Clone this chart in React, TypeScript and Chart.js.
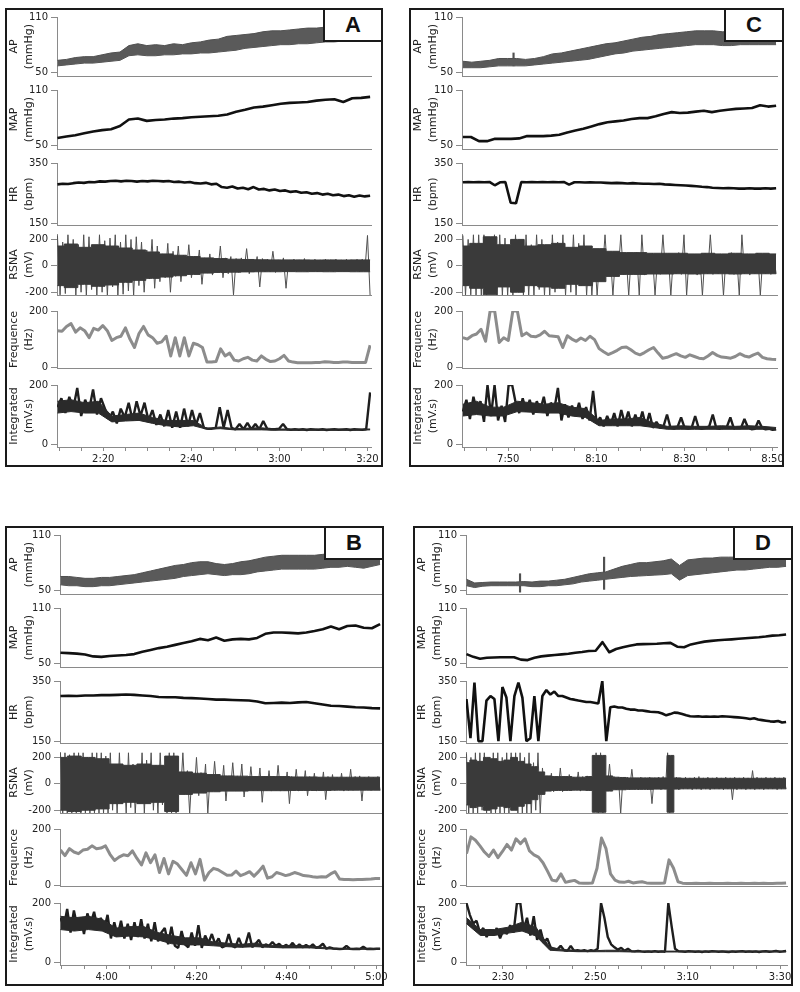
import React, { useEffect, useRef } from 'react';
import { Chart, registerables } from 'chart.js';
Chart.register(...registerables);

const FONT = "'DejaVu Sans', Verdana, sans-serif";

// ---------------- Panel A ----------------
const xLabelsA = ['2:20', '2:40', '3:00', '3:20'];
const apHiA = [63, 64, 66, 67, 67, 69, 71, 72, 79, 81, 79, 80, 79, 81, 80, 82, 83, 85, 86, 89, 90, 91, 92, 94, 95, 95, 96, 97, 98, 98, 99, 100, 99, 100, 101, 99];
const apLoA = [57, 58, 59, 60, 60, 61, 62, 63, 68, 69, 68, 68, 69, 69, 70, 70, 71, 71, 72, 73, 74, 76, 77, 78, 79, 80, 80, 81, 81, 82, 83, 83, 84, 84, 85, 85];
const apSpikeTA: number[] = [];
const apSpikeHiA: number[] = [];
const apSpikeLoA: number[] = [];
const mapA = [58, 59.5, 61, 63, 65, 66.5, 67.5, 71, 78, 79, 76.5, 77.5, 78, 79, 79.5, 80.5, 81, 81.5, 82, 83.5, 86.5, 88.5, 91, 92, 93.5, 95, 96, 96.5, 97, 98.5, 99.5, 100, 97, 101, 101.5, 102.5];
const hrA = [279, 281, 280, 283, 285, 284, 287, 286, 289, 288, 290, 291, 289, 291, 290, 288, 290, 289, 291, 290, 289, 290, 287, 288, 285, 287, 283, 282, 284, 279, 281, 270, 268, 272, 265, 268, 263, 270, 262, 264, 259, 262, 257, 259, 254, 256, 251, 253, 248, 250, 245, 248, 243, 245, 240, 243, 238, 242, 239, 241];
const rsnaCoreHiA = [150, 165, 140, 160, 150, 135, 120, 105, 90, 80, 70, 60, 55, 50, 48, 46, 45, 45, 45, 44, 45, 44, 45, 45];
const rsnaCoreLoA = [-150, -165, -140, -155, -145, -125, -110, -95, -85, -75, -65, -55, -50, -48, -46, -45, -45, -44, -45, -44, -45, -44, -45, -45];
const rsnaA = [
  230, -220, 180, -210, 235, -150, 200, -225, 160, -200, 235, -225, 220, -180, 150, -225, 235, -200, 190, -225, 210, -160, 235, -225, 180, -215, 235, -190, 200, -225,
  220, -150, 180, -200, 120, -100, 200, -170, 150, -120, 90, -90, 170, -200, 110, -80, 150, -120, 80, -70,
  160, -90, 70, -60, 120, -140, 60, -55, 90, -70, 50, -50, 150, -90, 60, -60, 70, -220, 55, -50,
  60, -45, 130, -60, 50, -45, 70, -160, 55, -45, 50, -45, 110, -50, 45, -40, 60, -170, 45, -40,
  50, -45, 45, -40, 55, -45, 45, -40, 50, -45, 45, -45, 50, -40, 45, -45, 50, -40, 45, -40, 50, -45, 45, -40, 50, -45, 50, -40, 230, -230,
];
const freqA = [130, 128, 145, 155, 125, 140, 130, 105, 138, 132, 148, 130, 95, 105, 110, 140, 100, 70, 120, 145, 115, 105, 85, 90, 110, 40, 105, 40, 105, 40, 85, 80, 70, 18, 18, 20, 65, 40, 50, 25, 22, 30, 35, 25, 22, 40, 28, 20, 22, 30, 42, 22, 18, 16, 16, 16, 16, 17, 17, 19, 18, 17, 17, 18, 18, 17, 17, 17, 17, 78];
const intCoreHiA = [145, 150, 140, 145, 95, 100, 105, 90, 80, 80, 80, 53, 58, 52, 54, 55, 51, 51, 51, 51, 51, 51, 51, 51];
const intCoreLoA = [105, 110, 105, 105, 75, 78, 80, 70, 62, 58, 62, 50, 52, 48, 48, 48, 47, 47, 47, 47, 47, 47, 47, 48];
const intA = [
  125, 155, 105, 160, 120, 190, 95, 150, 115, 185, 100, 155, 120,
  85, 110, 70, 120, 90, 140, 80, 145, 95, 140, 80, 115, 65, 100, 60, 115, 55, 110, 55, 120, 60, 115, 65, 105, 55, 52,
  52, 55, 125, 55, 115, 55, 50, 68, 50, 72, 50, 68, 50, 78, 52, 50, 50, 52, 68, 50, 48,
  50, 48, 50, 47, 50, 49, 48, 50, 47, 49, 50, 48, 49, 50, 47, 50, 49, 48, 50,
  175,
];

// ---------------- Panel C ----------------
const xLabelsC = ['7:50', '8:10', '8:30', '8:50'];
const apHiC = [62, 61, 62, 63, 65, 65, 65, 64, 65, 67, 70, 71, 73, 75, 77, 79, 81, 82, 84, 86, 88, 89, 91, 92, 93, 94, 95, 95, 95, 94, 94, 95, 95, 95, 94, 95];
const apLoC = [55, 55, 55, 56, 57, 57, 57, 57, 58, 59, 60, 61, 62, 63, 64, 66, 68, 70, 71, 73, 74, 75, 76, 77, 78, 79, 80, 80, 80, 79, 79, 80, 80, 80, 80, 80];
const apSpikeTC = [471.2];
const apSpikeHiC = [71];
const apSpikeLoC = [57];
const mapC = [59, 59, 54.5, 54.5, 57, 57, 57, 57.5, 60, 60, 60, 60.5, 61.5, 64, 66, 68, 70.5, 73, 75, 76, 77, 78.5, 79.5, 79.5, 81.5, 84, 86, 85, 85.5, 86.5, 87.5, 86, 87.5, 88.5, 89.5, 90, 90.5, 93.5, 92, 93];
const hrC = [286, 287, 286, 287, 286, 287, 276, 286, 287, 218, 216, 287, 286, 287, 286, 287, 286, 287, 286, 287, 278, 286, 286, 285, 286, 285, 285, 284, 283, 284, 283, 282, 283, 282, 281, 281, 280, 281, 279, 278, 277, 276, 275, 274, 273, 271, 270, 268, 267, 266, 267, 266, 265, 265, 266, 265, 265, 266, 265, 266];
const rsnaCoreHiC = [150, 170, 220, 160, 200, 150, 160, 170, 140, 150, 130, 110, 100, 100, 95, 95, 95, 90, 95, 90, 95, 90, 95, 90];
const rsnaCoreLoC = [-150, -170, -220, -160, -200, -150, -160, -170, -140, -150, -120, -80, -65, -65, -62, -62, -60, -62, -60, -60, -62, -60, -60, -60];
const rsnaC = [
  230, -225, 200, -220, 235, -225, 235, -225, 235, -225, 180, -200, 235, -225, 235, -225, 210, -225, 150, -225, 235, -200, 180, -225, 235, -225, 160, -225, 235, -180, 200, -225, 150, -225, 235, -200, 180, -160, 235, -225, 140, -200, 235, -225, 170, -150, 235, -225, 130, -225,
  90, -225, 80, -60, 235, -70, 90, -225, 85, -60, 235, -65, 80, -225, 90, -60, 100, -225, 235, -70, 85, -60, 95, -225, 80, -65, 235, -60, 90, -225, 80, -60, 100, -65, 235, -225, 85, -60, 90, -70, 80, -225, 95, -60, 235, -65, 85, -60, 90, -225, 80, -60, 100, -65, 85, -225, 235, -60, 90, -70, 80, -60, 95, -225, 85, -60, 90, -65, 80, -60,
];
const freqC = [105, 100, 112, 118, 135, 92, 200, 200, 88, 105, 95, 200, 200, 112, 122, 110, 108, 115, 128, 112, 110, 108, 70, 112, 100, 92, 104, 95, 110, 98, 66, 55, 45, 52, 60, 70, 72, 62, 50, 44, 52, 62, 70, 50, 32, 35, 42, 48, 40, 35, 44, 38, 32, 30, 40, 52, 42, 36, 34, 32, 38, 48, 40, 36, 44, 50, 35, 30, 28, 27];
const intCoreHiC = [135, 145, 125, 125, 145, 140, 135, 140, 125, 120, 80, 85, 85, 90, 72, 60, 62, 60, 60, 62, 60, 62, 60, 56];
const intCoreLoC = [95, 100, 95, 95, 110, 108, 105, 105, 95, 90, 62, 62, 62, 62, 56, 50, 50, 50, 50, 50, 50, 50, 50, 48];
const intC = [110, 150, 85, 160, 110, 145, 75, 200, 95, 200, 80, 130, 75, 200, 200, 140, 105, 155, 110, 150, 100, 145, 115, 160, 95, 140, 120, 190, 80, 135, 90, 130, 95, 140, 85, 125, 80, 180, 70, 90, 60, 95, 65, 105, 60, 115, 70, 110, 60, 100, 65, 110, 60, 105, 55, 75, 55, 60, 100, 55, 52, 58, 90, 55, 52, 55, 95, 54, 52, 55, 60, 100, 54, 52, 55, 58, 90, 52, 55, 54, 85, 56, 50, 52, 80, 55, 50, 52, 48, 50];

// ---------------- Panel B ----------------
const xLabelsB = ['4:00', '4:20', '4:40', '5:00'];
const apHiB = [65, 65, 64, 63, 63, 64, 64, 65, 66, 67, 69, 71, 73, 75, 77, 78, 80, 81, 81, 79, 78, 79, 81, 82, 84, 86, 87, 88, 88, 88, 88, 88, 89, 90, 90, 90, 90, 89, 90, 91];
const apLoB = [56, 55, 55, 54, 54, 55, 55, 56, 57, 58, 59, 60, 61, 62, 63, 65, 66, 67, 68, 67, 66, 67, 67, 68, 70, 71, 72, 73, 73, 73, 73, 73, 74, 75, 75, 76, 75, 74, 76, 78];
const apSpikeTB: number[] = [];
const apSpikeHiB: number[] = [];
const apSpikeLoB: number[] = [];
const mapB = [61.5, 61, 60.5, 59.5, 57.5, 57, 58, 58.5, 59, 60, 62.5, 64.5, 66.5, 68, 70, 72, 74, 76.5, 75, 78, 74.5, 76, 76.5, 76, 77.5, 82, 83.5, 83.5, 83, 82.5, 83.5, 85, 87, 90, 87, 90.5, 91, 88.5, 88, 92.5];
const hrB = [300, 301, 300, 302, 302, 303, 303, 304, 305, 304, 302, 300, 297, 296, 296, 294, 293, 292, 290, 288, 288, 287, 286, 285, 282, 276, 277, 278, 277, 279, 280, 276, 272, 268, 267, 265, 263, 262, 260, 259];
const rsnaCoreHiB = [200, 210, 200, 190, 150, 140, 150, 140, 210, 90, 80, 70, 60, 58, 55, 55, 55, 52, 52, 50, 50, 50, 50, 50];
const rsnaCoreLoB = [-200, -210, -200, -190, -150, -140, -150, -140, -210, -80, -70, -60, -55, -55, -52, -52, -52, -50, -50, -50, -48, -48, -48, -48];
const rsnaB = [
  235, -225, 235, -225, 220, -225, 235, -225, 235, -225, 235, -225, 200, -225, 235, -225, 235, -225, 235, -225, 210, -225,
  235, -200, 150, -225, 235, -150, 120, -225, 235, -180, 150, -225, 100, -150, 235, -225, 180, -120, 235, -200, 140, -225, 235, -160, 120, -225,
  235, -225, 235, -225,
  90, -70, 235, -80, 100, -225, 80, -70, 200, -90, 85, -70, 150, -225,
  60, -55, 170, -50, 55, -55, 140, -130, 55, -50, 160, -55, 60, -50, 150, -100, 55, -55, 130, -50, 55, -50, 120, -140, 55, -50, 100, -55, 55, -50, 140, -55, 55, -50, 90, -150, 55, -50, 110, -55, 50, -50, 100, -90, 55, -50, 80, -55, 50, -50, 90, -120, 55, -50, 70, -50, 50, -45, 80, -55, 50, -50, 110, -50, 55, -45, 60, -130, 50, -45, 55, -50, 50, -45, 55, -50,
];
const freqB = [125, 105, 130, 118, 112, 125, 128, 140, 130, 132, 140, 110, 88, 100, 108, 105, 122, 95, 72, 115, 80, 108, 45, 95, 40, 85, 75, 55, 35, 80, 40, 92, 18, 45, 60, 55, 45, 35, 36, 50, 34, 40, 48, 32, 48, 68, 25, 30, 45, 40, 34, 38, 45, 40, 34, 33, 30, 28, 30, 29, 40, 48, 22, 20, 20, 19, 20, 20, 21, 22, 24, 24];
const intCoreHiB = [155, 150, 155, 145, 115, 120, 120, 100, 90, 82, 82, 68, 64, 60, 64, 57, 56, 56, 54, 49, 46, 46, 46, 46];
const intCoreLoB = [110, 105, 110, 105, 85, 88, 85, 75, 62, 58, 58, 55, 52, 50, 52, 50, 48, 48, 48, 45, 43, 43, 43, 43];
const intB = [150, 120, 180, 100, 175, 120, 150, 95, 165, 130, 170, 115, 150, 110, 160, 80, 135, 90, 140, 80, 130, 75, 135, 85, 145, 80, 130, 70, 135, 70, 100, 115, 60, 120, 55, 48, 105, 60, 50, 100, 55, 125, 48, 90, 65, 95, 60, 80, 50, 55, 95, 55, 50, 82, 52, 60, 100, 50, 62, 75, 50, 60, 55, 68, 55, 62, 50, 58, 52, 65, 50, 60, 50, 58, 50, 60, 48, 52, 62, 45, 50, 46, 45, 44, 45, 55, 45, 44, 45, 44, 52, 44, 45, 44, 45, 45];

// ---------------- Panel D ----------------
const xLabelsD = ['2:30', '2:50', '3:10', '3:30'];
const apHiD = [62, 58, 58.5, 59, 59, 59, 59, 59.5, 59, 60, 60, 61, 62, 64, 66, 68, 69, 70, 73, 76, 78, 80, 80, 81, 82, 84, 77, 83, 84, 85, 85, 86, 86, 86, 86, 86, 86, 86, 85, 85];
const apLoD = [55, 53, 54.5, 55, 55, 55, 55, 55, 54, 54, 55, 55, 56, 57, 59, 60, 61, 62, 63, 64, 65, 65.5, 66, 66.5, 67, 68, 61, 66, 67, 68, 69, 70, 71, 72, 72, 73, 74, 75, 75, 76];
const apSpikeTD = [153.7, 171.9];
const apSpikeHiD = [68, 86];
const apSpikeLoD = [48, 51];
const mapD = [60, 57, 55, 56, 56.3, 56.5, 56.5, 56.5, 54, 53.5, 56, 57.5, 58.3, 59, 59.7, 60.3, 61.5, 62.3, 63.3, 63.6, 73, 62, 65.5, 67.5, 69, 70.5, 70.8, 71, 71.3, 71.8, 72.2, 68, 67.5, 70.5, 72, 73.5, 74.3, 75, 75.5, 76, 76.6, 77.2, 77.8, 78.3, 79, 80, 80.5, 81.2];
const hrD = [290, 160, 345, 150, 150, 285, 300, 290, 150, 330, 295, 150, 300, 345, 295, 150, 160, 300, 150, 300, 320, 305, 315, 300, 300, 295, 290, 288, 285, 283, 280, 280, 278, 275, 350, 150, 263, 265, 262, 262, 258, 255, 255, 252, 252, 250, 248, 247, 246, 242, 236, 240, 245, 244, 240, 236, 233, 232, 233, 231, 232, 231, 232, 231, 233, 232, 231, 230, 229, 228, 226, 224, 226, 222, 220, 218, 216, 215, 217, 212, 214];
const rsnaCoreHiD = [160, 180, 170, 200, 190, 170, 180, 200, 170, 150, 130, 90, 60, 55, 55, 55, 50, 50, 55, 215, 215, 60, 50, 48, 45, 45, 45, 45, 45, 45, 215, 45, 42, 42, 42, 42, 42, 42, 42, 42, 42, 42, 42, 42, 42, 42, 42, 42];
const rsnaCoreLoD = [-160, -180, -170, -200, -190, -170, -180, -200, -170, -150, -120, -80, -55, -50, -50, -50, -48, -48, -50, -215, -215, -55, -45, -45, -42, -42, -42, -42, -40, -40, -215, -40, -38, -38, -38, -38, -38, -38, -38, -38, -38, -38, -38, -38, -38, -38, -38, -38];
const rsnaD = [
  230, -225, 200, -225, 235, -225, 235, -200, 235, -225, 180, -225, 235, -225, 235, -225, 200, -225, 235, -225, 235, -190, 235, -225, 235, -225, 200, -225, 235, -225, 160, -200, 235, -225,
  120, -80, 60, -50, 80, -60, 50, -45, 120, -60, 55, -50, 70, -50, 50, -45, 90, -55, 55, -45, 60, -50, 50, -45,
  235, -225, 235, -225,
  60, -50, 150, -45, 55, -45, 50, -225, 45, -40, 50, -45, 110, -40, 45, -45, 50, -40, 45, -45, 50, -150, 45, -40, 50, -45, 55, -40,
  235, -225,
  45, -40, 50, -45, 45, -40, 50, -40, 45, -45, 50, -40, 55, -45, 45, -40, 50, -45, 45, -40, 50, -40, 45, -45, 50, -40, 45, -120, 50, -45, 45, -40, 50, -45, 45, -40, 100, -45, 50, -40, 45, -45, 50, -40, 45, -40, 50, -45, 45, -40, 50, -40,
];
const freqD = [112, 172, 160, 140, 118, 102, 125, 98, 120, 145, 125, 165, 148, 165, 122, 108, 100, 80, 50, 18, 15, 40, 10, 14, 17, 8, 7, 7, 8, 60, 168, 130, 40, 18, 11, 10, 14, 8, 10, 12, 8, 7, 7, 7, 8, 90, 60, 12, 7, 6, 6, 7, 6, 6, 7, 6, 6, 6, 7, 6, 6, 7, 6, 6, 7, 6, 7, 6, 6, 7, 7, 8];
const intCoreHiD = [150, 110, 110, 118, 135, 118, 50, 42, 40, 38, 40, 40, 37, 37, 37, 37, 37, 37, 37, 37, 37, 37, 37, 37];
const intCoreLoD = [130, 90, 90, 98, 105, 88, 40, 37, 35, 35, 35, 35, 34, 34, 34, 34, 34, 34, 34, 34, 34, 34, 34, 34];
const intD = [200, 160, 130, 140, 100, 115, 85, 110, 90, 115, 80, 110, 95, 125, 100, 200, 200, 110, 150, 90, 155, 75, 110, 65, 80, 50, 45, 42, 55, 40, 38, 55, 38, 40, 38, 40, 37, 40, 38, 45, 200, 150, 85, 60, 50, 42, 48, 38, 45, 37, 36, 38, 36, 35, 36, 35, 37, 35, 36, 35, 200, 120, 45, 37, 36, 35, 37, 36, 35, 36, 34, 36, 35, 37, 36, 35, 36, 35, 34, 36, 35, 36, 37, 35, 36, 35, 36, 34, 36, 37, 35, 36, 38, 35, 36, 38];

// ---------------- axes ----------------
const yTitles = [['AP', '(mmHg)'], ['MAP', '(mmHg)'], ['HR', '(bpm)'], ['RSNA', '(mV)'], ['Frequence', '(Hz)'], ['Integrated', '(mV.s)']];
const yTicks = [[50, 110], [50, 110], [150, 350], [-200, 0, 200], [0, 200], [0, 200]];
const yRanges = [[46, 110], [46, 110], [144, 350], [-221, 241], [-3, 200], [-10, 200]];

// subplot chart-area rows (relative to panel top)
const SUB = [[8, 73], [81, 146], [154, 222], [225, 292], [302, 365], [376, 439]];
const PAD_T = 8;
const PAD_B = 4;
const PAD_R = 18;

type Series = {
  apHi: number[]; apLo: number[]; spikeT: number[]; spikeHi: number[]; spikeLo: number[];
  map: number[]; hr: number[]; coreHi: number[]; coreLo: number[]; rsna: number[]; freq: number[];
  intHi: number[]; intLo: number[]; integ: number[];
};
interface PanelSpec {
  letter: string; left: number; top: number; width: number; height: number;
  axisX: number; plotRight: number; xMin: number; xMax: number; t0: number; t1: number;
  xLabels: string[]; s: Series;
}

const PANELS: PanelSpec[] = [
  { letter: 'A', left: 5, top: 8, width: 378, height: 459, axisX: 57, plotRight: 371, xMin: 129.5, xMax: 200.8, t0: 129.6, t1: 200.6, xLabels: xLabelsA,
    s: { apHi: apHiA, apLo: apLoA, spikeT: apSpikeTA, spikeHi: apSpikeHiA, spikeLo: apSpikeLoA, map: mapA, hr: hrA, coreHi: rsnaCoreHiA, coreLo: rsnaCoreLoA, rsna: rsnaA, freq: freqA, intHi: intCoreHiA, intLo: intCoreLoA, integ: intA } },
  { letter: 'C', left: 409, top: 8, width: 375, height: 459, axisX: 462, plotRight: 777, xMin: 459.5, xMax: 531, t0: 459.7, t1: 530.8, xLabels: xLabelsC,
    s: { apHi: apHiC, apLo: apLoC, spikeT: apSpikeTC, spikeHi: apSpikeHiC, spikeLo: apSpikeLoC, map: mapC, hr: hrC, coreHi: rsnaCoreHiC, coreLo: rsnaCoreLoC, rsna: rsnaC, freq: freqC, intHi: intCoreHiC, intLo: intCoreLoC, integ: intC } },
  { letter: 'B', left: 5, top: 526, width: 379, height: 460, axisX: 60, plotRight: 381, xMin: 229.6, xMax: 301, t0: 229.7, t1: 300.8, xLabels: xLabelsB,
    s: { apHi: apHiB, apLo: apLoB, spikeT: apSpikeTB, spikeHi: apSpikeHiB, spikeLo: apSpikeLoB, map: mapB, hr: hrB, coreHi: rsnaCoreHiB, coreLo: rsnaCoreLoB, rsna: rsnaB, freq: freqB, intHi: intCoreHiB, intLo: intCoreLoB, integ: intB } },
  { letter: 'D', left: 413, top: 526, width: 380, height: 460, axisX: 466, plotRight: 787, xMin: 142, xMax: 211.5, t0: 142.1, t1: 211.3, xLabels: xLabelsD,
    s: { apHi: apHiD, apLo: apLoD, spikeT: apSpikeTD, spikeHi: apSpikeHiD, spikeLo: apSpikeLoD, map: mapD, hr: hrD, coreHi: rsnaCoreHiD, coreLo: rsnaCoreLoD, rsna: rsnaD, freq: freqD, intHi: intCoreHiD, intLo: intCoreLoD, integ: intD } },
];

function spread(vals: number[], t0: number, t1: number) {
  const n = vals.length;
  return vals.map((y, i) => ({ x: t0 + (i * (t1 - t0)) / (n - 1), y }));
}

function fmt(v: number) {
  const h = Math.floor(v / 60);
  const m = Math.round(v - h * 60);
  return `${h}:${String(m).padStart(2, '0')}`;
}

function datasetsFor(p: PanelSpec, k: number): any[] {
  const { s, t0, t1 } = p;
  const base = { pointRadius: 0, tension: 0, fill: false };
  switch (k) {
    case 0:
      return [
        { ...base, data: spread(s.apHi, t0, t1), borderColor: '#505050', backgroundColor: '#5a5a5a', borderWidth: 1, fill: '+1' },
        { ...base, data: spread(s.apLo, t0, t1), borderColor: '#505050', borderWidth: 1 },
        { type: 'bar', data: s.spikeT.map((t, i) => ({ x: t, y: [s.spikeLo[i], s.spikeHi[i]] })), backgroundColor: '#505050', barThickness: 1.5 },
      ];
    case 1:
      return [{ ...base, data: spread(s.map, t0, t1), borderColor: '#111', borderWidth: 2.6, borderJoinStyle: 'round' }];
    case 2:
      return [{ ...base, data: spread(s.hr, t0, t1), borderColor: '#111', borderWidth: 2.6, borderJoinStyle: 'bevel' }];
    case 3:
      return [
        { ...base, data: spread(s.coreHi, t0, t1), stepped: 'middle', borderColor: '#3a3a3a', backgroundColor: '#3a3a3a', borderWidth: 1, fill: '+1' },
        { ...base, data: spread(s.coreLo, t0, t1), stepped: 'middle', borderColor: '#3a3a3a', borderWidth: 1 },
        { ...base, data: spread(s.rsna, t0, t1), borderColor: '#505050', borderWidth: 1, borderJoinStyle: 'bevel' },
      ];
    case 4:
      return [{ ...base, data: spread(s.freq, t0, t1), borderColor: '#8c8c8c', borderWidth: 3, borderJoinStyle: 'round' }];
    default:
      return [
        { ...base, data: spread(s.intHi, t0, t1), borderColor: '#2a2a2a', backgroundColor: '#2a2a2a', borderWidth: 1, fill: '+1' },
        { ...base, data: spread(s.intLo, t0, t1), borderColor: '#2a2a2a', borderWidth: 1 },
        { ...base, data: spread(s.integ, t0, t1), borderColor: '#1e1e1e', borderWidth: 2.4, borderJoinStyle: 'bevel' },
      ];
  }
}

function SubChart({ p, k }: { p: PanelSpec; k: number }) {
  const ref = useRef<HTMLCanvasElement>(null);
  const isLast = k === 5;
  const xh = isLast ? 19 : 0;
  const [ct, cb] = SUB[k];
  const left = p.left + 2;
  const yw = p.axisX - left;
  const W = Math.round(p.plotRight - left + PAD_R);
  const H = cb - ct + PAD_T + PAD_B + xh;
  const top = p.top + ct - PAD_T;

  useEffect(() => {
    if (!ref.current) return;
    const chart = new Chart(ref.current, {
      type: 'line',
      data: { datasets: datasetsFor(p, k) },
      options: {
        animation: false,
        responsive: false,
        devicePixelRatio: 1,
        events: [],
        layout: { padding: { top: PAD_T, bottom: PAD_B, left: 0, right: PAD_R } },
        plugins: { legend: { display: false }, tooltip: { enabled: false }, title: { display: false } },
        scales: {
          x: {
            type: 'linear',
            min: p.xMin,
            max: p.xMax,
            offset: false,
            afterBuildTicks: (sc: any) => {
              const t: any[] = [];
              for (let v = Math.ceil(p.xMin / 5) * 5; v <= p.xMax + 1e-9; v += 5) t.push({ value: v });
              sc.ticks = t;
            },
            afterFit: (sc: any) => { sc.height = xh; },
            ticks: {
              display: isLast, autoSkip: false, maxRotation: 0, padding: 2,
              font: { family: FONT, size: 10 }, color: '#222',
              callback: (v: any) => { const str = fmt(Number(v)); return p.xLabels.includes(str) ? str : ''; },
            },
            grid: { display: isLast, offset: false, drawOnChartArea: false, drawTicks: true, tickLength: 4, color: '#8a8a8a' },
            border: { display: true, color: '#8a8a8a', width: 1 },
          },
          y: {
            type: 'linear',
            min: yRanges[k][0],
            max: yRanges[k][1],
            afterBuildTicks: (sc: any) => { sc.ticks = yTicks[k].map((v) => ({ value: v })); },
            afterFit: (sc: any) => { sc.width = yw; },
            ticks: { autoSkip: false, padding: 3, font: { family: FONT, size: 10 }, color: '#222' },
            grid: { display: true, drawOnChartArea: false, drawTicks: true, tickLength: 6, color: '#8a8a8a' },
            border: { display: true, color: '#8a8a8a', width: 1 },
            title: { display: true, text: yTitles[k], font: { family: FONT, size: 11, lineHeight: 1.35 }, color: '#222', padding: { top: 0, bottom: 0 } },
          },
        },
      } as any,
    });
    return () => chart.destroy();
  }, []);

  return <canvas ref={ref} width={W} height={H} style={{ position: 'absolute', left, top, width: W, height: H }} />;
}

function Panel({ p }: { p: PanelSpec }) {
  return (
    <>
      {[0, 1, 2, 3, 4, 5].map((k) => <SubChart key={k} p={p} k={k} />)}
      <div style={{ position: 'absolute', left: p.left, top: p.top, width: p.width, height: p.height, border: '2px solid #1a1a1a', boxSizing: 'border-box', pointerEvents: 'none' }} />
      <div style={{
        position: 'absolute', left: p.left + p.width - 60, top: p.top, width: 60, height: 34,
        border: '2px solid #1a1a1a', boxSizing: 'border-box', background: '#fff',
        display: 'flex', alignItems: 'center', justifyContent: 'center',
        fontFamily: "'Liberation Sans', Arial, sans-serif", fontWeight: 'bold', fontSize: 22, color: '#111',
      }}>{p.letter}</div>
    </>
  );
}

export default function App() {
  return (
    <div style={{ position: 'absolute', left: 0, top: 0, width: 800, height: 992, background: '#fff', overflow: 'hidden' }}>
      {PANELS.map((p) => <Panel key={p.letter} p={p} />)}
    </div>
  );
}
